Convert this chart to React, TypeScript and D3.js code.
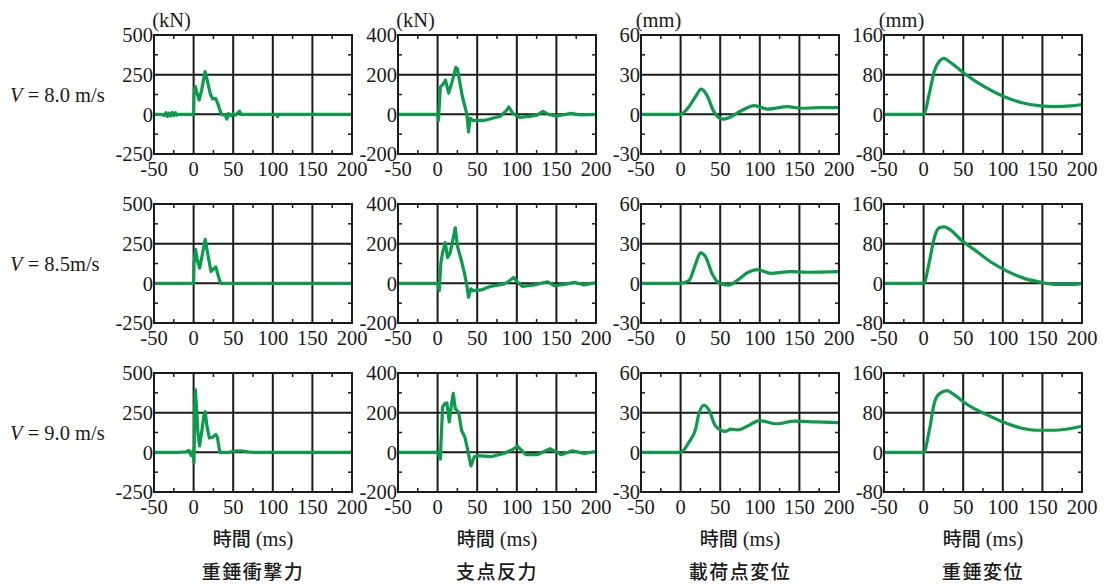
import React from 'react';
import * as d3 from 'd3';

// time axis (ms)
const timeTicks = [-50, 0, 50, 100, 150, 200];
const timeMinor = [-25, 25, 75, 125, 175];

const rowLabels = ['8.0 m/s', '8.5m/s', '9.0 m/s'];
const colTitles = ['重錘衝撃力', '支点反力', '載荷点変位', '重錘変位'];
const colUnits = ['(kN)', '(kN)', '(mm)', '(mm)'];
const colTicks = [
  [-250, 0, 250, 500],
  [-200, 0, 200, 400],
  [-30, 0, 30, 60],
  [-80, 0, 80, 160],
];

// [time, value]
const impact80 = [
  [-50, 0], [-40, 0], [-37, -8], [-35, 10], [-33, -12], [-31, 8], [-29, -10], [-27, 12],
  [-25, -8], [-23, 10], [-21, -5], [-19, 0], [0, 0], [0.5, 120], [2, 177], [4, 140],
  [7, 90], [10, 150], [14.5, 269], [17, 220], [21, 130], [24, 98], [28, 100], [31, 60],
  [35, 0], [40, -5], [42, -30], [44, 5], [47, -10], [50, 5], [53, -5], [56, 10], [58, 20],
  [60, 0], [105, 0], [106, -15], [107, 0], [200, 0],
];
const impact85 = [
  [-50, 0], [0, 0], [0.5, 120], [2.5, 214], [4.5, 150], [7.6, 96], [11, 180], [14.7, 277],
  [18, 180], [22, 75], [25, 90], [28, 104], [31, 50], [34, 0], [200, 0],
];
const impact90 = [
  [-50, 0], [-20, 0], [-10, 3], [-6, 12], [-3, -20], [-1, 10], [0.5, -65], [1.5, 300],
  [2.2, 395], [4, 260], [5.5, 120], [7.5, 40], [10, 120], [13, 230], [14.7, 256], [17, 160],
  [20, 90], [24, 95], [28, 112], [30, 95], [33, 0], [45, 0], [52, 8], [60, 10], [68, 3],
  [75, 0], [200, 0],
];

const support80 = [
  [-50, 0], [0, 0], [1, -30], [3.5, 137], [7, 153], [10, 173], [14, 107], [18, 160],
  [23, 237], [25, 230], [31, 95], [37, 0], [39, -88], [41, -20], [44, -30], [60, -30],
  [79, -10], [86, 15], [90, 37], [95, 5], [104, -15], [115, -10], [125, -5], [133, 15],
  [140, 0], [150, -8], [160, -2], [168, 5], [180, -3], [200, 0],
];
const support85 = [
  [-50, 0], [0, 0], [2.1, -37], [4.2, 105], [6.3, 155], [9.7, 205], [12.6, 130], [16, 155],
  [22.3, 280], [25, 188], [30.7, 105], [33.7, 55], [37, -12], [39, -70], [42, -28],
  [45, -37], [55, -33], [67, -15], [84, -3], [90, 10], [96, 30], [101, 5], [107, -15],
  [122, -8], [139, 8], [147, -12], [160, -5], [173, 5], [185, -8], [198, 2], [200, 0],
];
const support90 = [
  [-50, 0], [0, 0], [3.4, -34], [6.3, 229], [9.3, 246], [11.8, 249], [14.7, 153],
  [17.7, 246], [19.8, 297], [22.3, 220], [26.5, 203], [30.3, 110], [34.5, 76], [38.7, 0],
  [42, -68], [46.3, -22], [50.5, -17], [67, -22], [84, -5], [95, 15], [101, 30],
  [111.5, -12], [126, -12], [142, 19], [156, -12], [170, 8], [185, -5], [198, 3], [200, 2],
];

const loadDisp80 = [
  [-50, 0], [0, 0], [10.6, 5.8], [19, 13.5], [26, 19], [33, 14.7], [42, 2], [53, -3.6],
  [61, -2.5], [76, 2.5], [93, 6.6], [110, 4], [135, 5.8], [152, 4.6], [175, 5], [200, 5],
];
const loadDisp85 = [
  [-50, 0], [0, 0], [10.5, 2], [19, 14.7], [25, 23], [31.6, 20], [40, 7], [48.5, 0.3],
  [61, -1.3], [74, 3.3], [84, 7.9], [97, 10.4], [114, 7.6], [139, 8.9], [160, 8.4], [200, 8.9],
];
const loadDisp90 = [
  [-50, 0], [0, 0], [10.5, 7.6], [19, 17.8], [23, 29], [29.5, 35.6], [36, 31.8], [44, 20],
  [57, 15.8], [63, 17.5], [72, 17], [86, 20.3], [99, 24], [122, 21.6], [143, 23.6],
  [170, 23], [200, 22.4],
];

const weightDisp80 = [
  [-50, 0], [0, 0], [7.2, 42], [13.5, 87], [19.8, 107], [25.3, 113], [34.5, 104], [51, 83],
  [76.6, 56], [102, 35.6], [123, 24], [148, 17], [165, 15.7], [186, 17], [200, 19.8],
];
const weightDisp85 = [
  [-50, 0], [0, 0], [7.2, 43], [13.5, 92], [19.8, 112], [26, 114], [34.6, 107], [47, 88],
  [64, 68], [85, 43], [106, 24], [127, 10], [148.5, 2], [165, -2], [191, -2], [200, 0],
];
const weightDisp90 = [
  [-50, 0], [0, 0], [7.2, 44], [13.5, 99], [19.8, 118], [29.5, 124.5], [38.7, 116],
  [55.6, 96], [81, 75], [102, 60], [123, 49], [144, 44.5], [165, 44.5], [200, 52.7],
];

const series = [
  [impact80, support80, loadDisp80, weightDisp80],
  [impact85, support85, loadDisp85, weightDisp85],
  [impact90, support90, loadDisp90, weightDisp90],
];

const W = 1104;
const H = 586;
const lefts = [154, 398, 641, 884];
const tops = [35, 204, 373];
const pw = 198;
const ph = 119;
const green = '#0a9c4b';
const ink = '#1a1a1a';
const serif = "'Liberation Serif', 'Times New Roman', serif";
const cjk = "'Noto Sans CJK JP', 'Noto Sans CJK SC', sans-serif";
const fs = 20.5;

function Panel({ row, col }: { row: number; col: number }) {
  const x0 = lefts[col];
  const y0 = tops[row];
  const yt = colTicks[col];
  const x = d3.scaleLinear().domain([-50, 200]).range([x0, x0 + pw]);
  const y = d3.scaleLinear().domain([yt[0], yt[yt.length - 1]]).range([y0 + ph, y0]);
  const yMinor = yt.slice(1).map((v, i) => (v + yt[i]) / 2);
  const isForce = col < 2;
  const line = d3
    .line<number[]>()
    .x((d) => x(d[0]))
    .y((d) => y(d[1]))
    .curve(isForce ? d3.curveLinear : d3.curveMonotoneX);
  const tl = 4;

  return (
    <g>
      {timeTicks.map((t) => (
        <line key={'gx' + t} x1={x(t)} x2={x(t)} y1={y0} y2={y0 + ph} stroke={ink} strokeWidth={2} />
      ))}
      {yt.map((v) => (
        <line key={'gy' + v} x1={x0} x2={x0 + pw} y1={y(v)} y2={y(v)} stroke={ink} strokeWidth={2} />
      ))}
      {timeMinor.map((t) => (
        <g key={'mx' + t}>
          <line x1={x(t)} x2={x(t)} y1={y0} y2={y0 + tl} stroke={ink} strokeWidth={1.5} />
          <line x1={x(t)} x2={x(t)} y1={y0 + ph} y2={y0 + ph - tl} stroke={ink} strokeWidth={1.5} />
        </g>
      ))}
      {yMinor.map((v) => (
        <g key={'my' + v}>
          <line x1={x0} x2={x0 + tl} y1={y(v)} y2={y(v)} stroke={ink} strokeWidth={1.5} />
          <line x1={x0 + pw} x2={x0 + pw - tl} y1={y(v)} y2={y(v)} stroke={ink} strokeWidth={1.5} />
        </g>
      ))}
      <path d={line(series[row][col] as number[][]) || ''} fill="none" stroke={green} strokeWidth={3.2} strokeLinejoin="round" />
      <rect x={x0} y={y0} width={pw} height={ph} fill="none" stroke={ink} strokeWidth={2} />
      {timeTicks.map((t) => (
        <text key={'lx' + t} x={x(t)} y={y0 + ph + 22} textAnchor="middle" style={{ fontFamily: serif, fontSize: fs }} fill={ink}>
          {t}
        </text>
      ))}
      {yt.map((v) => (
        <text key={'ly' + v} x={x0 - 1} y={y(v)} dy="0.35em" textAnchor="end" style={{ fontFamily: serif, fontSize: fs }} fill={ink}>
          {v}
        </text>
      ))}
    </g>
  );
}

export default function App() {
  return (
    <svg width={W} height={H} style={{ position: 'absolute', left: 0, top: 0, background: '#fff' }}>
      <rect width={W} height={H} fill="#fff" />
      {colUnits.map((u, c) => (
        <text key={'u' + c} x={lefts[c] + 17.5} y={20} dy="0.35em" textAnchor="middle" style={{ fontFamily: serif, fontSize: fs }} fill={ink}>
          {u}
        </text>
      ))}
      {rowLabels.map((lab, r) => (
        <text key={'r' + r} x={10} y={tops[r] + ph / 2} dy="0.35em" style={{ fontFamily: serif, fontSize: fs }} fill={ink}>
          <tspan style={{ fontStyle: 'italic' }}>V</tspan> = {lab}
        </text>
      ))}
      {series.map((rowSeries, r) => rowSeries.map((_, c) => <Panel key={r + '-' + c} row={r} col={c} />))}
      {colTitles.map((t, c) => (
        <g key={'t' + c}>
          <text x={lefts[c] + pw / 2} y={540} dy="0.35em" textAnchor="middle" fill={ink}>
            <tspan style={{ fontFamily: cjk, fontWeight: 500, fontSize: 19 }}>時間</tspan>
            <tspan style={{ fontFamily: serif, fontSize: fs }}> (ms)</tspan>
          </text>
          <text x={lefts[c] + pw / 2} y={572} dy="0.35em" textAnchor="middle" style={{ fontFamily: cjk, fontWeight: 500, fontSize: 19, letterSpacing: 1.5 }} fill={ink}>
            {t}
          </text>
        </g>
      ))}
    </svg>
  );
}
